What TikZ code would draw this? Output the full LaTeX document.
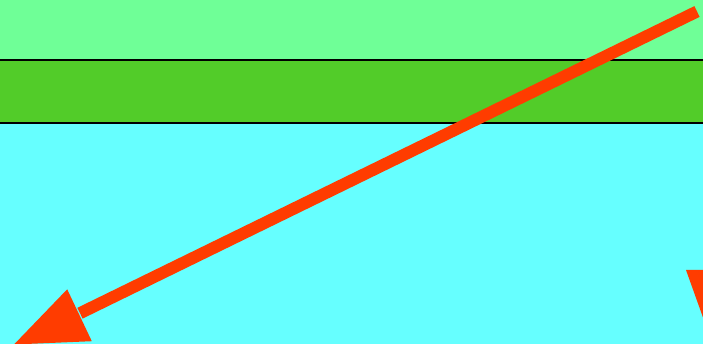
\documentclass[tikz,border=0pt]{standalone}
\begin{document}
\begin{tikzpicture}[x=1pt,y=-1pt]
\definecolor{lgreen}{RGB}{111,255,151}
\definecolor{dgreen}{RGB}{82,204,41}
\definecolor{lcyan}{RGB}{102,255,255}
\definecolor{ared}{RGB}{255,60,0}
\tikzset{sep/.style={black,line width=1.5pt},shaft/.style={ared,line width=12pt}}
\useasboundingbox (0,0) rectangle (703,344);
\clip (0,0) rectangle (703,344);
\fill[lgreen] (0,0) rectangle (703,60);
\fill[dgreen] (0,60) rectangle (703,123);
\fill[lcyan] (0,123) rectangle (703,344);
\draw[sep] (0,60) -- (703,60);
\draw[sep] (0,123) -- (703,123);
\coordinate (start) at (697,11.5);
\coordinate (base) at (80,313.2);
\draw[shaft] (start) -- (base);
\fill[ared] (14,344.5) -- (91.8,341.2) -- (67.2,289.3) -- cycle;
\fill[ared] (686,270) -- (720,270) -- (720,365) -- cycle;
\end{tikzpicture}
\end{document}
